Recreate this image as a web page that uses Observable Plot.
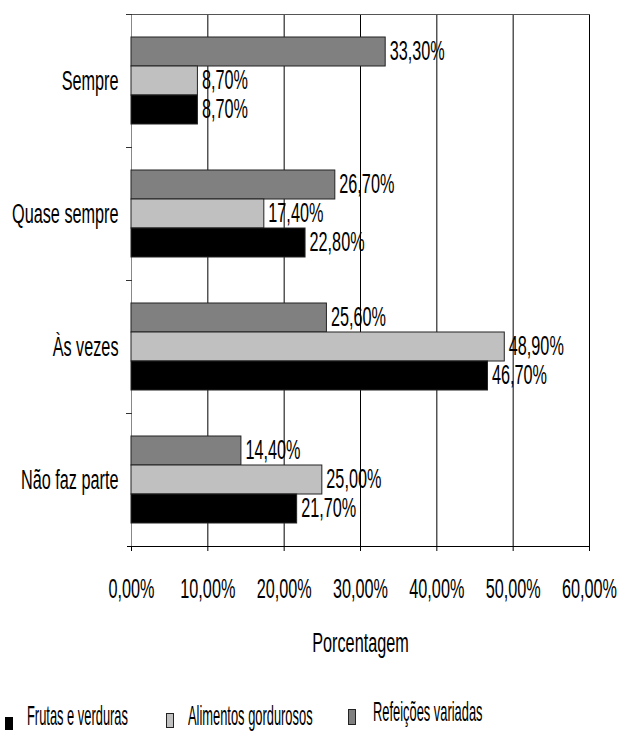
<!DOCTYPE html>
<html>
<head>
<meta charset="utf-8">
<script src="https://cdn.jsdelivr.net/npm/d3@7"></script>
<script src="https://cdn.jsdelivr.net/npm/@observablehq/plot@0.6"></script>
<style>
  body { margin: 0; background: #fff; }
  #wrap { position: relative; width: 620px; height: 731px; background: #fff; overflow: hidden;
          font-family: "Liberation Sans", Arial, sans-serif; }
  #legend { position: absolute; left: 0; top: 660px; width: 620px; height: 71px; color: #000; }
  .sw { position: absolute; box-sizing: border-box; }
  .lt { position: absolute; font-size: 28px; line-height: 28px; white-space: nowrap;
        transform: scaleX(0.46); transform-origin: 0 0; }
</style>
</head>
<body>
<div id="wrap"><div id="chart"></div><div id="legend"></div></div>
<script>
// Frequência de consumo por tipo de alimento (%)
const categorias = ["Sempre", "Quase sempre", "Às vezes", "Não faz parte"];
const series = ["Refeições variadas", "Alimentos gordurosos", "Frutas e verduras"];
const refeicoesVariadas = [33.3, 26.7, 25.6, 14.4];
const alimentosGordurosos = [8.7, 17.4, 48.9, 25.0];
const frutasVerduras = [8.7, 22.8, 46.7, 21.7];
const xTicks = [0, 10, 20, 30, 40, 50, 60];
const cores = ["#808080", "#c0c0c0", "#000000"];

const valores = [refeicoesVariadas, alimentosGordurosos, frutasVerduras];
const rows = [];
categorias.forEach((c, i) => series.forEach((s, j) => rows.push({categoria: c, serie: s, valor: valores[j][i]})));

const pct = v => v.toFixed(2).replace(".", ",") + "%";

const chart = Plot.plot({
  width: 620,
  height: 660,
  marginTop: 13,
  marginLeft: 131,
  marginRight: 31,
  marginBottom: 114,
  style: {fontFamily: '"Liberation Sans", Arial, sans-serif', fontSize: "28px", color: "#000", background: "#fff"},
  x: {domain: [0, 60], ticks: xTicks, tickFormat: pct, label: "Porcentagem", labelAnchor: "center",
      labelArrow: "none", labelOffset: 105, tickSize: 5, tickPadding: 27},
  y: {domain: series, axis: null, paddingInner: 0, paddingOuter: 0.77},
  fy: {domain: categorias, padding: 0, axis: "left", label: null, tickSize: 0, tickPadding: 13},
  color: {domain: series, range: cores},
  marks: [
    Plot.ruleX(xTicks.slice(1), {stroke: "#000", strokeWidth: 1}),
    Plot.ruleX([0], {stroke: "#888", strokeWidth: 1}),
    Plot.frame({anchor: "top", facet: "super", stroke: "#555"}),
    Plot.frame({anchor: "top", insetLeft: -5, insetRight: 458, stroke: "#333"}),
    Plot.frame({anchor: "bottom", facet: "super", insetLeft: -4, stroke: "#000"}),
    Plot.barX(rows, {x: "valor", y: "serie", fy: "categoria", fill: "serie", stroke: "#222", strokeWidth: 1}),
    Plot.text(rows, {x: "valor", y: "serie", fy: "categoria", text: d => pct(d.valor), textAnchor: "start",
                     dx: 4, dy: -1, fill: "#000", fontSize: 28})
  ]
});
document.getElementById("chart").appendChild(chart);

// Letras estreitas: comprime cada texto horizontalmente em torno do seu ponto de ancoragem
const svgNS = "http://www.w3.org/2000/svg";
const estreito = 0.58;
Array.from(chart.querySelectorAll("text")).forEach(el => {
  const bb = el.getBBox();
  if (!bb.width) return;
  const anchor = getComputedStyle(el).textAnchor;
  const ax = anchor === "end" ? bb.x + bb.width : anchor === "middle" ? bb.x + bb.width / 2 : bb.x;
  const g = document.createElementNS(svgNS, "g");
  g.setAttribute("transform",
    `${el.getAttribute("transform") || ""} translate(${ax},0) scale(${estreito},1) translate(${-ax},0)`.trim());
  el.removeAttribute("transform");
  el.parentNode.insertBefore(g, el);
  g.appendChild(el);
});

// Legenda
const legend = document.getElementById("legend");
const legendItens = [
  {serie: "Frutas e verduras", sx: 5, sy: 57, sw: 8, sh: 13, border: "none", tx: 27, ty: 42},
  {serie: "Alimentos gordurosos", sx: 166, sy: 53, sw: 8, sh: 15, border: "1px solid #222", tx: 188, ty: 42},
  {serie: "Refeições variadas", sx: 348, sy: 49, sw: 8, sh: 16, border: "1px solid #222", tx: 373, ty: 38}
];
legendItens.forEach(p => {
  const sw = document.createElement("div");
  sw.className = "sw";
  Object.assign(sw.style, {left: p.sx + "px", top: p.sy + "px", width: p.sw + "px", height: p.sh + "px",
    background: cores[series.indexOf(p.serie)], border: p.border});
  const t = document.createElement("div");
  t.className = "lt";
  t.style.left = p.tx + "px";
  t.style.top = p.ty + "px";
  t.textContent = p.serie;
  legend.appendChild(sw);
  legend.appendChild(t);
});
</script>
</body>
</html>
